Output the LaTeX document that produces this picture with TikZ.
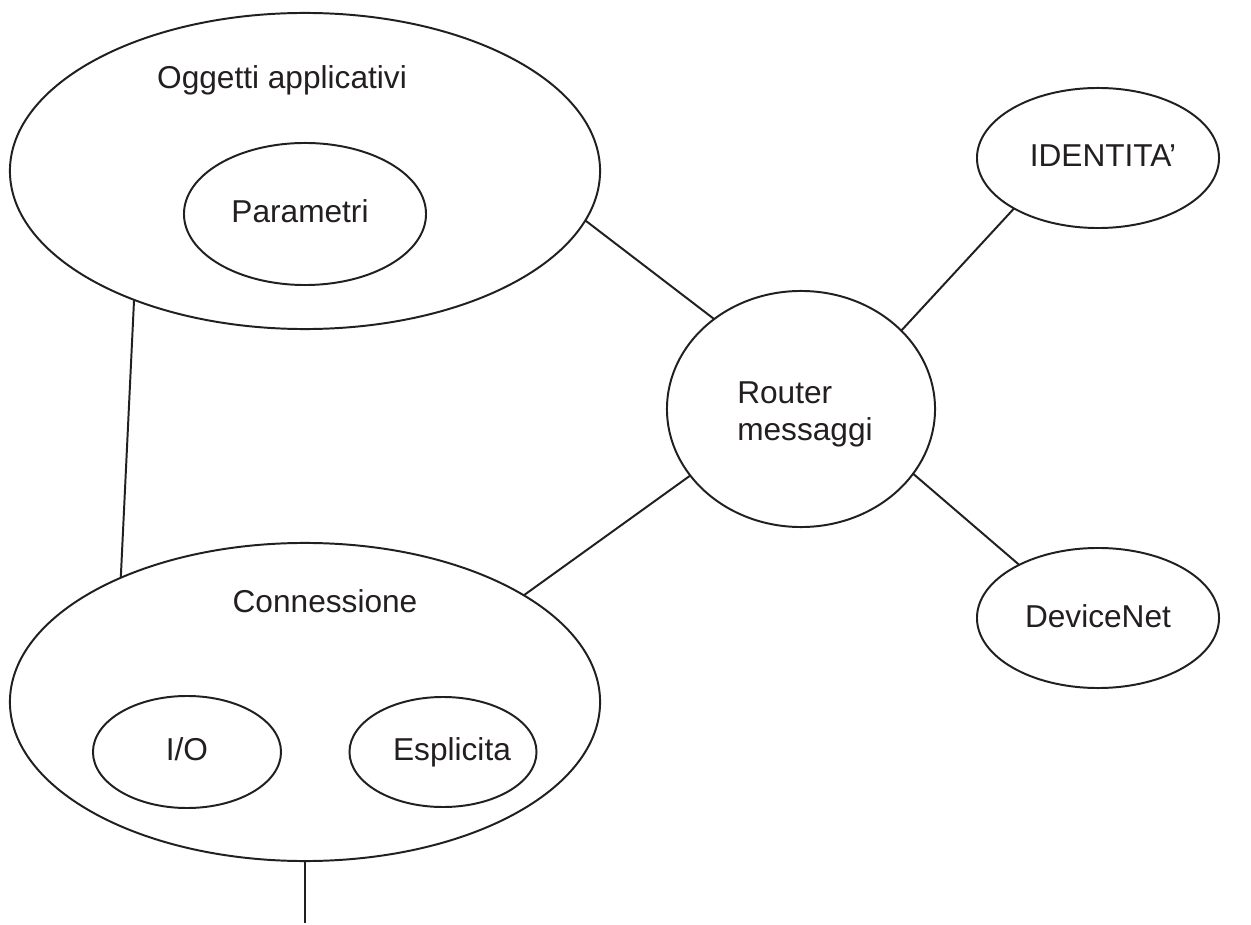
\documentclass[tikz,border=0pt]{standalone}
\usepackage{fontspec}
\setmainfont{Liberation Sans}
\usepackage{tikz}
\usetikzlibrary{shapes.geometric}
\definecolor{ink}{HTML}{231F20}
\definecolor{paper}{HTML}{FFFFFF}
\tikzset{
  bubble/.style={
    ellipse,
    draw=ink,
    line width=1.4pt,
    inner sep=0pt,
    outer sep=0pt
  },
  wire/.style={
    draw=ink,
    line width=1.4pt
  },
  lbl/.style={
    font=\fontsize{22.5pt}{26.3pt}\selectfont,
    text=ink,
    inner sep=0pt,
    anchor=base
  }
}

\begin{document}
\begin{tikzpicture}[x=0.025cm, y=-0.025cm]
  \useasboundingbox[fill=paper] (0,0) rectangle (1251,925);

  %===========================================================
  % Objects
  %===========================================================
  \node[bubble, minimum width=14.75cm, minimum height=7.9cm]  (ogg)  at (305,171) {};
  \node[bubble, minimum width=6.05cm,  minimum height=3.55cm] (par)  at (305,214) {};
  \node[bubble, minimum width=6.7cm,   minimum height=5.9cm]  (rtr)  at (801,409) {};
  \node[bubble, minimum width=6.05cm,  minimum height=3.5cm]  (idn)  at (1098,158) {};
  \node[bubble, minimum width=6.05cm,  minimum height=3.5cm]  (dnet) at (1098,618) {};
  \node[bubble, minimum width=14.75cm, minimum height=7.95cm] (conn) at (305,702) {};
  \node[bubble, minimum width=4.7cm,   minimum height=2.8cm]  (io)   at (187,752) {};
  \node[bubble, minimum width=4.675cm, minimum height=2.75cm] (expl) at (443,752) {};

  %===========================================================
  % Labels (placed on their baselines)
  %===========================================================
  \node[lbl] (ogg-t)  at (282,89)   {Oggetti applicativi};
  \node[lbl] (par-t)  at (300,223)  {Parametri};
  % base of a two-line node = baseline of the last line
  \node[lbl, anchor=base west, align=left] (rtr-t) at (737,440) {Router\\messaggi};
  \node[lbl] (idn-t)  at (1103,167) {IDENTITA’};
  \node[lbl] (dnet-t) at (1098,627) {DeviceNet};
  \node[lbl] (conn-t) at (325,612)  {Connessione};
  \node[lbl] (io-t)   at (187,760)  {I/O};
  \node[lbl] (expl-t) at (452,760)  {Esplicita};

  %===========================================================
  % Links
  %===========================================================
  \coordinate (bus) at (305,923);

  \draw[wire] (ogg.-10)    -- (rtr.134.7);
  \draw[wire] (idn.211.9)  -- (rtr.38.5);
  \draw[wire] (rtr.-30.8)  -- (dnet.146.8);
  \draw[wire] (rtr.211)    -- (conn.26.5);
  \draw[wire] (ogg.217.8)  -- (conn.146);
  \draw[wire] (conn.south) -- (bus);

\end{tikzpicture}
\end{document}
